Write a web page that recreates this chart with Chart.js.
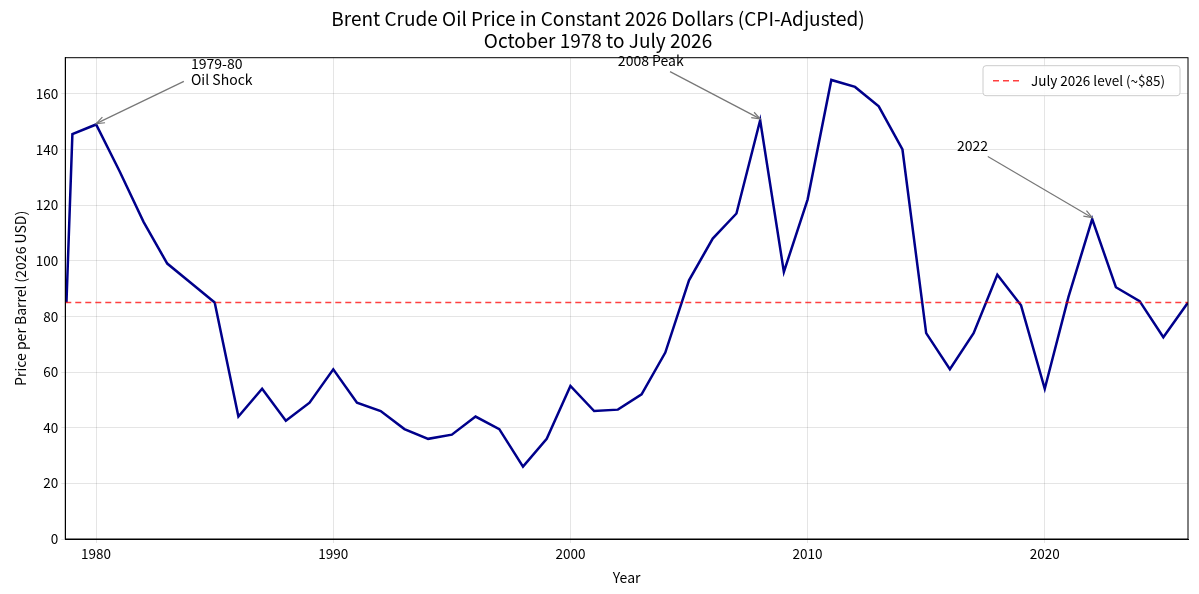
<!DOCTYPE html>
<html>
<head>
<meta charset="utf-8">
<script src="https://cdn.jsdelivr.net/npm/chart.js@4"></script>
<style>
  body { margin: 0; background: #fff; }
  #wrap { width: 1199px; height: 594px; }
</style>
</head>
<body>
<div id="wrap"><canvas id="c"></canvas></div>
<script>
// Brent price in constant 2026 dollars
const years = [1978.75, 1979, 1980, 1981, 1982, 1983, 1984, 1985, 1986, 1987, 1988, 1989,
  1990, 1991, 1992, 1993, 1994, 1995, 1996, 1997, 1998, 1999, 2000, 2001, 2002, 2003,
  2004, 2005, 2006, 2007, 2008, 2009, 2010, 2011, 2012, 2013, 2014, 2015, 2016, 2017,
  2018, 2019, 2020, 2021, 2022, 2023, 2024, 2025, 2026.04];
const prices = [85, 145.5, 149, 132, 114, 99, 92, 85, 44, 54, 42.5, 49,
  61, 49, 46, 39.5, 36, 37.5, 44, 39.5, 26, 36, 55, 46, 46.5, 52,
  67, 93, 108, 117, 150.5, 96, 122, 165, 162.5, 155.5, 140, 74, 61, 74,
  95, 84, 54, 87, 115, 90.5, 85.5, 72.5, 85];
const refLevel = 85;
const notes = [
  { text: ["1979-80", "Oil Shock"], tx: 1984, ty: 169, fx: 1983.7, fy: 164.5, px: 1980, py: 149.3 },
  { text: ["2008 Peak"], tx: 2002, ty: 170, fx: 2004.2, fy: 168, px: 2008, py: 151 },
  { text: ["2022"], tx: 2016.3, ty: 139.5, fx: 2017.6, fy: 137.5, px: 2022, py: 115.5 }
];

const FONT = "'Noto Sans CJK JP', 'Noto Sans', sans-serif";

const notesPlugin = {
  id: "notes",
  afterDatasetsDraw(chart) {
    const { ctx, scales: { x, y }, chartArea: a } = chart;
    ctx.save();
    // reference line
    ctx.strokeStyle = "rgba(255,0,0,0.75)";
    ctx.lineWidth = 1.6;
    ctx.setLineDash([6, 4]);
    ctx.beginPath();
    ctx.moveTo(a.left, y.getPixelForValue(refLevel));
    ctx.lineTo(a.right, y.getPixelForValue(refLevel));
    ctx.stroke();
    ctx.setLineDash([]);

    ctx.font = "14px " + FONT;
    ctx.fillStyle = "#000";
    notes.forEach(n => {
      n.text.forEach((t, i) => {
        ctx.fillText(t, x.getPixelForValue(n.tx), y.getPixelForValue(n.ty) + i * 16);
      });
      const x1 = x.getPixelForValue(n.fx), y1 = y.getPixelForValue(n.fy);
      const x2 = x.getPixelForValue(n.px), y2 = y.getPixelForValue(n.py);
      ctx.strokeStyle = "#777";
      ctx.lineWidth = 1.2;
      ctx.beginPath(); ctx.moveTo(x1, y1); ctx.lineTo(x2, y2); ctx.stroke();
      const ang = Math.atan2(y2 - y1, x2 - x1);
      ctx.beginPath();
      ctx.moveTo(x2 - 9 * Math.cos(ang - 0.35), y2 - 9 * Math.sin(ang - 0.35));
      ctx.lineTo(x2, y2);
      ctx.lineTo(x2 - 9 * Math.cos(ang + 0.35), y2 - 9 * Math.sin(ang + 0.35));
      ctx.stroke();
    });

    // legend box
    const lw = 197, lh = 30, lx = a.right - lw - 8, ly = a.top + 8;
    ctx.fillStyle = "rgba(255,255,255,0.85)";
    ctx.strokeStyle = "#ccc";
    ctx.lineWidth = 1;
    ctx.beginPath(); ctx.roundRect(lx, ly, lw, lh, 3); ctx.fill(); ctx.stroke();
    ctx.strokeStyle = "rgba(255,0,0,0.75)";
    ctx.lineWidth = 1.6;
    ctx.setLineDash([6, 4]);
    ctx.beginPath(); ctx.moveTo(lx + 10, ly + 15); ctx.lineTo(lx + 38, ly + 15); ctx.stroke();
    ctx.setLineDash([]);
    ctx.fillStyle = "#000";
    ctx.font = "13.5px " + FONT;
    ctx.textBaseline = "middle";
    ctx.fillText("July 2026 level (~$85)", lx + 48, ly + 15);

    // frame
    ctx.strokeStyle = "#000";
    ctx.lineWidth = 1;
    ctx.strokeRect(a.left, a.top, a.right - a.left, a.bottom - a.top);
    ctx.restore();
  }
};

new Chart(document.getElementById("c"), {
  type: "line",
  data: {
    datasets: [{
      data: years.map((yr, i) => ({ x: yr, y: prices[i] })),
      borderColor: "#00008b",
      borderWidth: 2.5,
      pointRadius: 0,
      tension: 0,
      fill: false
    }]
  },
  options: {
    responsive: true,
    maintainAspectRatio: false,
    animation: false,
    layout: { padding: { left: 8, right: 11, top: 6, bottom: 4 } },
    plugins: {
      legend: { display: false },
      tooltip: { enabled: false },
      title: {
        display: true,
        text: ["Brent Crude Oil Price in Constant 2026 Dollars (CPI-Adjusted)", "October 1978 to July 2026"],
        color: "#000",
        font: { family: FONT, size: 19, weight: "normal", lineHeight: 1.15 },
        padding: { top: 2, bottom: 6 }
      }
    },
    scales: {
      x: {
        type: "linear",
        min: 1978.7,
        max: 2026.04,
        grid: { color: "rgba(0,0,0,0.1)", drawTicks: true, tickLength: 4 },
        border: { color: "#000" },
        ticks: {
          stepSize: 10,
          color: "#000",
          font: { family: FONT, size: 13.5 },
          callback: v => (v % 10 === 0 ? String(v) : null)
        },
        afterBuildTicks: s => { s.ticks = [1980, 1990, 2000, 2010, 2020].map(v => ({ value: v })); },
        title: { display: true, text: "Year", color: "#000", font: { family: FONT, size: 14 } }
      },
      y: {
        min: 0,
        max: 173,
        grid: { color: "rgba(0,0,0,0.1)", tickLength: 4 },
        border: { color: "#000" },
        ticks: { stepSize: 20, color: "#000", font: { family: FONT, size: 13.5 } },
        afterBuildTicks: s => { s.ticks = [0, 20, 40, 60, 80, 100, 120, 140, 160].map(v => ({ value: v })); },
        title: { display: true, text: "Price per Barrel (2026 USD)", color: "#000", font: { family: FONT, size: 14 } }
      }
    }
  },
  plugins: [notesPlugin]
});
</script>
</body>
</html>
